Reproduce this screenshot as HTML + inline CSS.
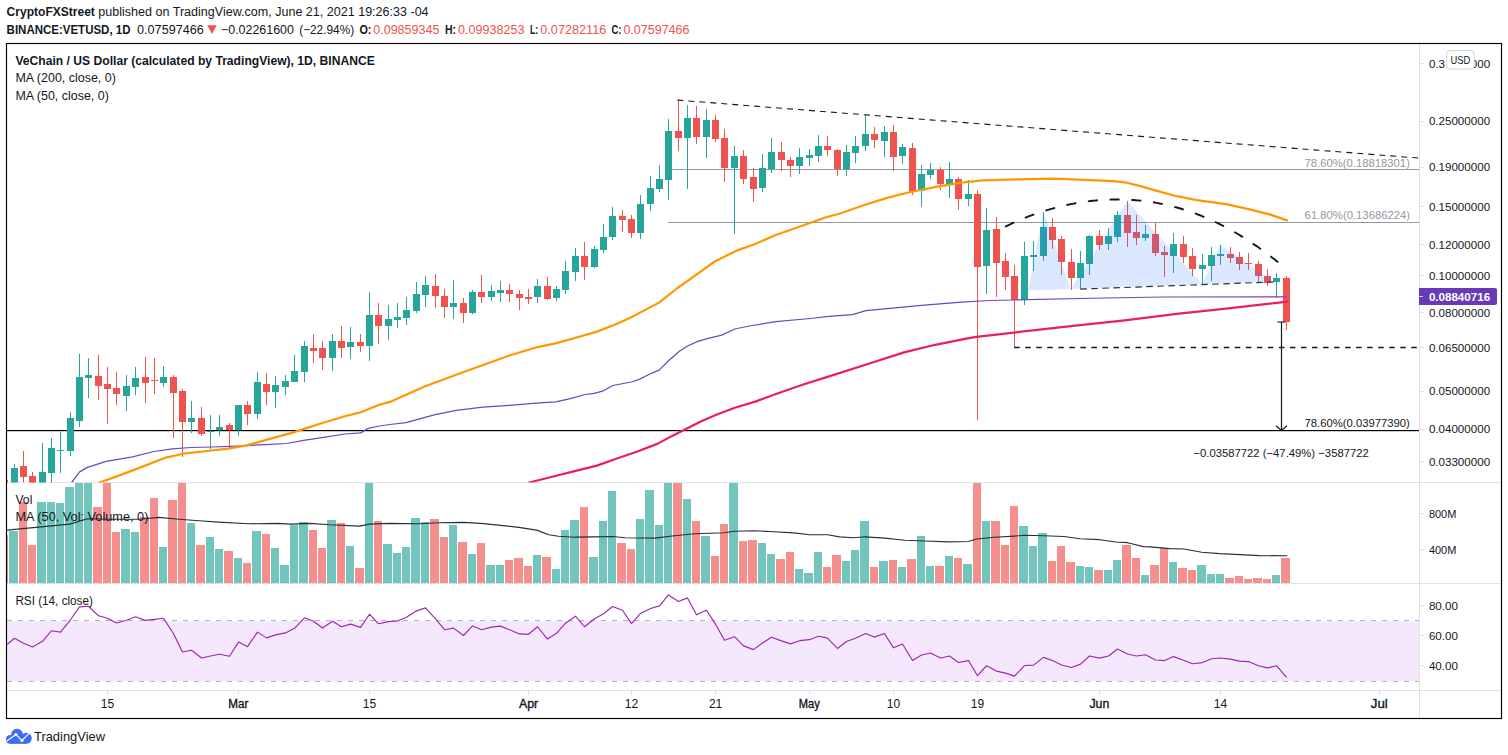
<!DOCTYPE html><html><head><meta charset="utf-8"><title>VETUSD</title><style>html,body{margin:0;padding:0;background:#fff}svg{display:block}</style></head><body><svg width="1508" height="755" viewBox="0 0 1508 755" font-family="Liberation Sans, sans-serif">
<rect width="1508" height="755" fill="#fff"/>
<defs><clipPath id="main"><rect x="7" y="44" width="1412" height="438.5"/></clipPath><clipPath id="volc"><rect x="7" y="483" width="1412" height="100"/></clipPath><clipPath id="rsic"><rect x="7" y="584" width="1412" height="106"/></clipPath></defs>
<g shape-rendering="crispEdges" fill="#e0e2e7">
<rect x="1419" y="44" width="1" height="674"/>
<rect x="7" y="482" width="1494" height="1"/>
<rect x="7" y="583" width="1494" height="1"/>
<rect x="7" y="690" width="1494" height="1"/>
</g>
<rect x="7" y="621" width="1412" height="60" fill="#f5e8fd" shape-rendering="crispEdges"/>
<g stroke="#b4b4b8" stroke-width="1" stroke-dasharray="5 6" shape-rendering="crispEdges">
<line x1="7" y1="620.5" x2="1419" y2="620.5"/><line x1="7" y1="681.5" x2="1419" y2="681.5"/></g>
<g clip-path="url(#volc)" shape-rendering="crispEdges">
<rect x="7" y="534.7" width="1" height="60" fill="#f58f8d"/>
<rect x="9" y="531" width="9" height="52" fill="#72c5bd"/>
<rect x="19" y="502" width="8" height="81" fill="#f58f8d"/>
<rect x="28" y="545" width="8" height="38" fill="#f58f8d"/>
<rect x="37" y="502" width="9" height="81" fill="#72c5bd"/>
<rect x="47" y="502" width="8" height="81" fill="#72c5bd"/>
<rect x="56" y="503" width="8" height="80" fill="#72c5bd"/>
<rect x="65" y="487" width="9" height="96" fill="#72c5bd"/>
<rect x="75" y="482" width="8" height="101" fill="#72c5bd"/>
<rect x="84" y="482" width="8" height="101" fill="#72c5bd"/>
<rect x="93" y="507" width="9" height="76" fill="#f58f8d"/>
<rect x="103" y="482" width="8" height="101" fill="#f58f8d"/>
<rect x="112" y="532" width="8" height="51" fill="#f58f8d"/>
<rect x="121" y="529" width="9" height="54" fill="#72c5bd"/>
<rect x="131" y="532" width="8" height="51" fill="#72c5bd"/>
<rect x="140" y="517" width="9" height="66" fill="#f58f8d"/>
<rect x="150" y="498" width="8" height="85" fill="#f58f8d"/>
<rect x="159" y="547" width="8" height="36" fill="#72c5bd"/>
<rect x="168" y="500" width="9" height="83" fill="#f58f8d"/>
<rect x="178" y="482" width="8" height="101" fill="#f58f8d"/>
<rect x="187" y="523" width="8" height="60" fill="#72c5bd"/>
<rect x="196" y="545" width="9" height="38" fill="#f58f8d"/>
<rect x="206" y="537" width="8" height="46" fill="#72c5bd"/>
<rect x="215" y="549" width="8" height="34" fill="#72c5bd"/>
<rect x="224" y="551" width="9" height="32" fill="#f58f8d"/>
<rect x="234" y="558" width="8" height="25" fill="#72c5bd"/>
<rect x="243" y="563" width="8" height="20" fill="#f58f8d"/>
<rect x="252" y="531" width="9" height="52" fill="#72c5bd"/>
<rect x="262" y="534" width="8" height="49" fill="#f58f8d"/>
<rect x="271" y="548" width="8" height="35" fill="#72c5bd"/>
<rect x="280" y="565" width="9" height="18" fill="#72c5bd"/>
<rect x="290" y="525" width="8" height="58" fill="#72c5bd"/>
<rect x="299" y="522" width="9" height="61" fill="#72c5bd"/>
<rect x="309" y="530" width="8" height="53" fill="#f58f8d"/>
<rect x="318" y="548" width="8" height="35" fill="#f58f8d"/>
<rect x="327" y="520" width="9" height="63" fill="#72c5bd"/>
<rect x="337" y="523" width="8" height="60" fill="#f58f8d"/>
<rect x="346" y="546" width="8" height="37" fill="#72c5bd"/>
<rect x="355" y="568" width="9" height="15" fill="#f58f8d"/>
<rect x="365" y="482" width="8" height="101" fill="#72c5bd"/>
<rect x="374" y="521" width="8" height="62" fill="#f58f8d"/>
<rect x="383" y="544" width="9" height="39" fill="#72c5bd"/>
<rect x="393" y="553" width="8" height="30" fill="#72c5bd"/>
<rect x="402" y="547" width="8" height="36" fill="#72c5bd"/>
<rect x="411" y="518" width="9" height="65" fill="#72c5bd"/>
<rect x="421" y="522" width="8" height="61" fill="#72c5bd"/>
<rect x="430" y="519" width="9" height="64" fill="#f58f8d"/>
<rect x="440" y="537" width="8" height="46" fill="#f58f8d"/>
<rect x="449" y="525" width="8" height="58" fill="#72c5bd"/>
<rect x="458" y="542" width="9" height="41" fill="#f58f8d"/>
<rect x="468" y="554" width="8" height="29" fill="#72c5bd"/>
<rect x="477" y="543" width="8" height="40" fill="#f58f8d"/>
<rect x="486" y="565" width="9" height="18" fill="#72c5bd"/>
<rect x="496" y="565" width="8" height="18" fill="#72c5bd"/>
<rect x="505" y="560" width="8" height="23" fill="#f58f8d"/>
<rect x="514" y="558" width="9" height="25" fill="#f58f8d"/>
<rect x="524" y="566" width="8" height="17" fill="#f58f8d"/>
<rect x="533" y="555" width="8" height="28" fill="#72c5bd"/>
<rect x="542" y="557" width="9" height="26" fill="#f58f8d"/>
<rect x="552" y="569" width="8" height="14" fill="#72c5bd"/>
<rect x="561" y="530" width="8" height="53" fill="#72c5bd"/>
<rect x="570" y="520" width="9" height="63" fill="#72c5bd"/>
<rect x="580" y="507" width="8" height="76" fill="#f58f8d"/>
<rect x="589" y="557" width="9" height="26" fill="#72c5bd"/>
<rect x="599" y="521" width="8" height="62" fill="#72c5bd"/>
<rect x="608" y="491" width="8" height="92" fill="#72c5bd"/>
<rect x="617" y="543" width="9" height="40" fill="#f58f8d"/>
<rect x="627" y="549" width="8" height="34" fill="#f58f8d"/>
<rect x="636" y="519" width="8" height="64" fill="#72c5bd"/>
<rect x="645" y="490" width="9" height="93" fill="#72c5bd"/>
<rect x="655" y="525" width="8" height="58" fill="#72c5bd"/>
<rect x="664" y="482" width="8" height="101" fill="#72c5bd"/>
<rect x="673" y="482" width="9" height="101" fill="#f58f8d"/>
<rect x="683" y="499" width="8" height="84" fill="#72c5bd"/>
<rect x="692" y="521" width="8" height="62" fill="#f58f8d"/>
<rect x="701" y="536" width="9" height="47" fill="#72c5bd"/>
<rect x="711" y="556" width="8" height="27" fill="#f58f8d"/>
<rect x="720" y="524" width="8" height="59" fill="#f58f8d"/>
<rect x="729" y="482" width="9" height="101" fill="#72c5bd"/>
<rect x="739" y="541" width="8" height="42" fill="#f58f8d"/>
<rect x="748" y="540" width="9" height="43" fill="#f58f8d"/>
<rect x="758" y="543" width="8" height="40" fill="#72c5bd"/>
<rect x="767" y="554" width="8" height="29" fill="#72c5bd"/>
<rect x="776" y="559" width="9" height="24" fill="#f58f8d"/>
<rect x="786" y="552" width="8" height="31" fill="#f58f8d"/>
<rect x="795" y="569" width="8" height="14" fill="#72c5bd"/>
<rect x="804" y="573" width="9" height="10" fill="#72c5bd"/>
<rect x="814" y="552" width="8" height="31" fill="#72c5bd"/>
<rect x="823" y="567" width="8" height="16" fill="#f58f8d"/>
<rect x="832" y="555" width="9" height="28" fill="#f58f8d"/>
<rect x="842" y="561" width="8" height="22" fill="#72c5bd"/>
<rect x="851" y="550" width="8" height="33" fill="#72c5bd"/>
<rect x="860" y="521" width="9" height="62" fill="#72c5bd"/>
<rect x="870" y="567" width="8" height="16" fill="#f58f8d"/>
<rect x="879" y="561" width="9" height="22" fill="#72c5bd"/>
<rect x="889" y="560" width="8" height="23" fill="#f58f8d"/>
<rect x="898" y="567" width="8" height="16" fill="#72c5bd"/>
<rect x="907" y="559" width="9" height="24" fill="#f58f8d"/>
<rect x="917" y="536" width="8" height="47" fill="#72c5bd"/>
<rect x="926" y="566" width="8" height="17" fill="#72c5bd"/>
<rect x="935" y="566" width="9" height="17" fill="#f58f8d"/>
<rect x="945" y="556" width="8" height="27" fill="#72c5bd"/>
<rect x="954" y="558" width="8" height="25" fill="#f58f8d"/>
<rect x="963" y="564" width="9" height="19" fill="#72c5bd"/>
<rect x="973" y="482" width="8" height="101" fill="#f58f8d"/>
<rect x="982" y="521" width="8" height="62" fill="#72c5bd"/>
<rect x="991" y="521" width="9" height="62" fill="#f58f8d"/>
<rect x="1001" y="545" width="8" height="38" fill="#f58f8d"/>
<rect x="1010" y="506" width="8" height="77" fill="#f58f8d"/>
<rect x="1019" y="526" width="9" height="57" fill="#72c5bd"/>
<rect x="1029" y="546" width="8" height="37" fill="#72c5bd"/>
<rect x="1038" y="533" width="9" height="50" fill="#72c5bd"/>
<rect x="1048" y="561" width="8" height="22" fill="#f58f8d"/>
<rect x="1057" y="546" width="8" height="37" fill="#f58f8d"/>
<rect x="1066" y="562" width="9" height="21" fill="#f58f8d"/>
<rect x="1076" y="566" width="8" height="17" fill="#72c5bd"/>
<rect x="1085" y="567" width="8" height="16" fill="#72c5bd"/>
<rect x="1094" y="570" width="9" height="13" fill="#f58f8d"/>
<rect x="1104" y="570" width="8" height="13" fill="#72c5bd"/>
<rect x="1113" y="560" width="8" height="23" fill="#72c5bd"/>
<rect x="1122" y="545" width="9" height="38" fill="#f58f8d"/>
<rect x="1132" y="558" width="8" height="25" fill="#f58f8d"/>
<rect x="1141" y="575" width="8" height="8" fill="#72c5bd"/>
<rect x="1150" y="565" width="9" height="18" fill="#f58f8d"/>
<rect x="1160" y="548" width="8" height="35" fill="#f58f8d"/>
<rect x="1169" y="562" width="8" height="21" fill="#72c5bd"/>
<rect x="1178" y="568" width="9" height="15" fill="#f58f8d"/>
<rect x="1188" y="570" width="8" height="13" fill="#f58f8d"/>
<rect x="1197" y="565" width="9" height="18" fill="#72c5bd"/>
<rect x="1207" y="574" width="8" height="9" fill="#72c5bd"/>
<rect x="1216" y="574" width="8" height="9" fill="#72c5bd"/>
<rect x="1225" y="578" width="9" height="5" fill="#f58f8d"/>
<rect x="1235" y="576" width="8" height="7" fill="#f58f8d"/>
<rect x="1244" y="579" width="8" height="4" fill="#f58f8d"/>
<rect x="1253" y="578" width="9" height="5" fill="#f58f8d"/>
<rect x="1263" y="579" width="8" height="4" fill="#f58f8d"/>
<rect x="1272" y="575" width="8" height="8" fill="#72c5bd"/>
<rect x="1281" y="558" width="9" height="25" fill="#f58f8d"/>
</g>
<polyline clip-path="url(#volc)" points="6.96,530.12 35.81,527.34 69.63,524.15 87.53,518.78 111.41,519.18 139.26,519.18 159.15,517.39 179.05,519.18 198.94,520.77 218.83,522.16 248.67,523.76 278.51,523.36 290,524.15 309.89,523.36 329.79,524.75 359.63,526.14 369.58,524.15 389.47,523.36 419.31,523.76 439.2,522.76 463.08,522.36 480.98,523.36 500.88,525.35 518.78,527.34 536.68,530.12 548.62,534.7 558.57,536.29 574.48,537.28 575,537.08 594.89,536.89 612.8,536.49 624.73,537.68 654.58,538.08 674.47,535.69 694.36,533.7 724.2,532.71 734.15,531.32 754.05,530.72 773.94,531.71 793.83,532.91 809.75,534.7 827.65,534.7 839.59,536.89 853.51,537.68 865.45,536.69 865,536.89 884.89,538.08 904.79,540.27 924.68,541.06 948.55,541.86 968.45,541.46 976.41,539.07 994.31,537.28 1014.2,536.09 1024.15,535.29 1044.05,535.69 1063.94,536.49 1079.85,538.68 1099.75,539.67 1115.66,542.06 1127.6,542.66 1143.51,546.63 1150,546.83 1169.89,548.62 1183.82,549.02 1201.72,552.2 1219.63,553.6 1239.52,554.59 1259.42,555.59 1287.27,555.79" fill="none" stroke="#2a2e39" stroke-width="1.1" stroke-linejoin="round"/>
<g clip-path="url(#main)">
<g shape-rendering="crispEdges" fill="#9598a1"><rect x="668" y="169" width="751" height="1"/><rect x="668" y="222" width="751" height="1"/></g>
<rect x="7" y="430" width="1412" height="1.2" fill="#000"/>
<g shape-rendering="crispEdges">
<rect x="7" y="480" width="1" height="3" fill="#ef5350"/>
<rect x="14" y="464" width="1" height="22" fill="#26a69a"/>
<rect x="11" y="468" width="7" height="18" fill="#26a69a"/>
<rect x="23" y="451" width="1" height="35" fill="#ef5350"/>
<rect x="20" y="466" width="7" height="11" fill="#ef5350"/>
<rect x="32" y="472" width="1" height="14" fill="#ef5350"/>
<rect x="29" y="476" width="7" height="10" fill="#ef5350"/>
<rect x="42" y="443" width="1" height="43" fill="#26a69a"/>
<rect x="39" y="472" width="7" height="14" fill="#26a69a"/>
<rect x="51" y="438" width="1" height="48" fill="#26a69a"/>
<rect x="48" y="448" width="7" height="25" fill="#26a69a"/>
<rect x="60" y="432" width="1" height="41" fill="#26a69a"/>
<rect x="57" y="450" width="7" height="1" fill="#26a69a"/>
<rect x="70" y="412" width="1" height="44" fill="#26a69a"/>
<rect x="67" y="418" width="7" height="33" fill="#26a69a"/>
<rect x="79" y="354" width="1" height="73" fill="#26a69a"/>
<rect x="76" y="377" width="7" height="44" fill="#26a69a"/>
<rect x="88" y="358" width="1" height="40" fill="#26a69a"/>
<rect x="85" y="375" width="7" height="3" fill="#26a69a"/>
<rect x="98" y="355" width="1" height="45" fill="#ef5350"/>
<rect x="95" y="376" width="7" height="10" fill="#ef5350"/>
<rect x="107" y="367" width="1" height="57" fill="#ef5350"/>
<rect x="104" y="384" width="7" height="5" fill="#ef5350"/>
<rect x="116" y="372" width="1" height="33" fill="#ef5350"/>
<rect x="113" y="388" width="7" height="6" fill="#ef5350"/>
<rect x="126" y="375" width="1" height="36" fill="#26a69a"/>
<rect x="123" y="386" width="7" height="10" fill="#26a69a"/>
<rect x="135" y="367" width="1" height="28" fill="#26a69a"/>
<rect x="132" y="378" width="7" height="9" fill="#26a69a"/>
<rect x="145" y="357" width="1" height="46" fill="#ef5350"/>
<rect x="142" y="377" width="7" height="6" fill="#ef5350"/>
<rect x="154" y="358" width="1" height="36" fill="#ef5350"/>
<rect x="151" y="380" width="7" height="1" fill="#ef5350"/>
<rect x="163" y="366" width="1" height="21" fill="#26a69a"/>
<rect x="160" y="377" width="7" height="6" fill="#26a69a"/>
<rect x="173" y="375" width="1" height="63" fill="#ef5350"/>
<rect x="170" y="377" width="7" height="16" fill="#ef5350"/>
<rect x="182" y="389" width="1" height="68" fill="#ef5350"/>
<rect x="179" y="391" width="7" height="31" fill="#ef5350"/>
<rect x="191" y="401" width="1" height="32" fill="#26a69a"/>
<rect x="188" y="418" width="7" height="4" fill="#26a69a"/>
<rect x="201" y="407" width="1" height="29" fill="#ef5350"/>
<rect x="198" y="418" width="7" height="16" fill="#ef5350"/>
<rect x="210" y="415" width="1" height="34" fill="#26a69a"/>
<rect x="207" y="431" width="7" height="1" fill="#26a69a"/>
<rect x="219" y="415" width="1" height="21" fill="#26a69a"/>
<rect x="216" y="427" width="7" height="3" fill="#26a69a"/>
<rect x="229" y="423" width="1" height="25" fill="#ef5350"/>
<rect x="226" y="425" width="7" height="5" fill="#ef5350"/>
<rect x="238" y="405" width="1" height="31" fill="#26a69a"/>
<rect x="235" y="405" width="7" height="25" fill="#26a69a"/>
<rect x="247" y="401" width="1" height="24" fill="#ef5350"/>
<rect x="244" y="405" width="7" height="9" fill="#ef5350"/>
<rect x="257" y="372" width="1" height="47" fill="#26a69a"/>
<rect x="254" y="382" width="7" height="32" fill="#26a69a"/>
<rect x="266" y="373" width="1" height="32" fill="#ef5350"/>
<rect x="263" y="384" width="7" height="8" fill="#ef5350"/>
<rect x="275" y="376" width="1" height="32" fill="#26a69a"/>
<rect x="272" y="385" width="7" height="7" fill="#26a69a"/>
<rect x="285" y="375" width="1" height="20" fill="#26a69a"/>
<rect x="282" y="381" width="7" height="6" fill="#26a69a"/>
<rect x="294" y="355" width="1" height="27" fill="#26a69a"/>
<rect x="291" y="371" width="7" height="11" fill="#26a69a"/>
<rect x="304" y="341" width="1" height="41" fill="#26a69a"/>
<rect x="301" y="346" width="7" height="26" fill="#26a69a"/>
<rect x="313" y="334" width="1" height="29" fill="#ef5350"/>
<rect x="310" y="348" width="7" height="3" fill="#ef5350"/>
<rect x="322" y="341" width="1" height="29" fill="#ef5350"/>
<rect x="319" y="348" width="7" height="10" fill="#ef5350"/>
<rect x="332" y="334" width="1" height="37" fill="#26a69a"/>
<rect x="329" y="341" width="7" height="17" fill="#26a69a"/>
<rect x="341" y="326" width="1" height="32" fill="#ef5350"/>
<rect x="338" y="341" width="7" height="7" fill="#ef5350"/>
<rect x="350" y="327" width="1" height="32" fill="#26a69a"/>
<rect x="347" y="342" width="7" height="5" fill="#26a69a"/>
<rect x="360" y="334" width="1" height="18" fill="#ef5350"/>
<rect x="357" y="342" width="7" height="4" fill="#ef5350"/>
<rect x="369" y="292" width="1" height="69" fill="#26a69a"/>
<rect x="366" y="315" width="7" height="31" fill="#26a69a"/>
<rect x="378" y="303" width="1" height="41" fill="#ef5350"/>
<rect x="375" y="315" width="7" height="11" fill="#ef5350"/>
<rect x="388" y="305" width="1" height="35" fill="#26a69a"/>
<rect x="385" y="319" width="7" height="7" fill="#26a69a"/>
<rect x="397" y="303" width="1" height="25" fill="#26a69a"/>
<rect x="394" y="317" width="7" height="3" fill="#26a69a"/>
<rect x="406" y="297" width="1" height="28" fill="#26a69a"/>
<rect x="403" y="310" width="7" height="8" fill="#26a69a"/>
<rect x="416" y="282" width="1" height="31" fill="#26a69a"/>
<rect x="413" y="294" width="7" height="17" fill="#26a69a"/>
<rect x="425" y="276" width="1" height="31" fill="#26a69a"/>
<rect x="422" y="285" width="7" height="10" fill="#26a69a"/>
<rect x="435" y="274" width="1" height="34" fill="#ef5350"/>
<rect x="432" y="286" width="7" height="10" fill="#ef5350"/>
<rect x="444" y="289" width="1" height="29" fill="#ef5350"/>
<rect x="441" y="296" width="7" height="11" fill="#ef5350"/>
<rect x="453" y="280" width="1" height="39" fill="#26a69a"/>
<rect x="450" y="303" width="7" height="4" fill="#26a69a"/>
<rect x="463" y="298" width="1" height="25" fill="#ef5350"/>
<rect x="460" y="303" width="7" height="10" fill="#ef5350"/>
<rect x="472" y="290" width="1" height="24" fill="#26a69a"/>
<rect x="469" y="292" width="7" height="21" fill="#26a69a"/>
<rect x="481" y="275" width="1" height="28" fill="#ef5350"/>
<rect x="478" y="292" width="7" height="5" fill="#ef5350"/>
<rect x="491" y="285" width="1" height="16" fill="#26a69a"/>
<rect x="488" y="291" width="7" height="6" fill="#26a69a"/>
<rect x="500" y="281" width="1" height="21" fill="#26a69a"/>
<rect x="497" y="290" width="7" height="3" fill="#26a69a"/>
<rect x="509" y="284" width="1" height="18" fill="#ef5350"/>
<rect x="506" y="290" width="7" height="4" fill="#ef5350"/>
<rect x="519" y="290" width="1" height="20" fill="#ef5350"/>
<rect x="516" y="294" width="7" height="4" fill="#ef5350"/>
<rect x="528" y="289" width="1" height="15" fill="#ef5350"/>
<rect x="525" y="297" width="7" height="2" fill="#ef5350"/>
<rect x="537" y="279" width="1" height="24" fill="#26a69a"/>
<rect x="534" y="286" width="7" height="11" fill="#26a69a"/>
<rect x="547" y="277" width="1" height="23" fill="#ef5350"/>
<rect x="544" y="286" width="7" height="13" fill="#ef5350"/>
<rect x="556" y="286" width="1" height="15" fill="#26a69a"/>
<rect x="553" y="289" width="7" height="9" fill="#26a69a"/>
<rect x="565" y="261" width="1" height="33" fill="#26a69a"/>
<rect x="562" y="271" width="7" height="19" fill="#26a69a"/>
<rect x="575" y="248" width="1" height="33" fill="#26a69a"/>
<rect x="572" y="256" width="7" height="16" fill="#26a69a"/>
<rect x="584" y="242" width="1" height="38" fill="#ef5350"/>
<rect x="581" y="256" width="7" height="11" fill="#ef5350"/>
<rect x="594" y="246" width="1" height="22" fill="#26a69a"/>
<rect x="591" y="249" width="7" height="18" fill="#26a69a"/>
<rect x="603" y="224" width="1" height="29" fill="#26a69a"/>
<rect x="600" y="237" width="7" height="13" fill="#26a69a"/>
<rect x="612" y="207" width="1" height="33" fill="#26a69a"/>
<rect x="609" y="216" width="7" height="21" fill="#26a69a"/>
<rect x="622" y="210" width="1" height="22" fill="#ef5350"/>
<rect x="619" y="216" width="7" height="4" fill="#ef5350"/>
<rect x="631" y="215" width="1" height="23" fill="#ef5350"/>
<rect x="628" y="219" width="7" height="14" fill="#ef5350"/>
<rect x="640" y="195" width="1" height="44" fill="#26a69a"/>
<rect x="637" y="204" width="7" height="29" fill="#26a69a"/>
<rect x="650" y="176" width="1" height="35" fill="#26a69a"/>
<rect x="647" y="188" width="7" height="16" fill="#26a69a"/>
<rect x="659" y="165" width="1" height="27" fill="#26a69a"/>
<rect x="656" y="179" width="7" height="10" fill="#26a69a"/>
<rect x="668" y="119" width="1" height="81" fill="#26a69a"/>
<rect x="665" y="131" width="7" height="49" fill="#26a69a"/>
<rect x="678" y="100" width="1" height="51" fill="#ef5350"/>
<rect x="675" y="131" width="7" height="7" fill="#ef5350"/>
<rect x="687" y="105" width="1" height="84" fill="#26a69a"/>
<rect x="684" y="118" width="7" height="20" fill="#26a69a"/>
<rect x="696" y="106" width="1" height="38" fill="#ef5350"/>
<rect x="693" y="118" width="7" height="19" fill="#ef5350"/>
<rect x="706" y="109" width="1" height="49" fill="#26a69a"/>
<rect x="703" y="120" width="7" height="17" fill="#26a69a"/>
<rect x="715" y="115" width="1" height="27" fill="#ef5350"/>
<rect x="712" y="120" width="7" height="19" fill="#ef5350"/>
<rect x="724" y="129" width="1" height="53" fill="#ef5350"/>
<rect x="721" y="138" width="7" height="30" fill="#ef5350"/>
<rect x="734" y="146" width="1" height="88" fill="#26a69a"/>
<rect x="731" y="156" width="7" height="12" fill="#26a69a"/>
<rect x="743" y="150" width="1" height="34" fill="#ef5350"/>
<rect x="740" y="156" width="7" height="23" fill="#ef5350"/>
<rect x="753" y="168" width="1" height="34" fill="#ef5350"/>
<rect x="750" y="177" width="7" height="12" fill="#ef5350"/>
<rect x="762" y="154" width="1" height="38" fill="#26a69a"/>
<rect x="759" y="168" width="7" height="20" fill="#26a69a"/>
<rect x="771" y="138" width="1" height="35" fill="#26a69a"/>
<rect x="768" y="152" width="7" height="17" fill="#26a69a"/>
<rect x="781" y="142" width="1" height="29" fill="#ef5350"/>
<rect x="778" y="152" width="7" height="8" fill="#ef5350"/>
<rect x="790" y="157" width="1" height="20" fill="#ef5350"/>
<rect x="787" y="160" width="7" height="6" fill="#ef5350"/>
<rect x="799" y="148" width="1" height="26" fill="#26a69a"/>
<rect x="796" y="157" width="7" height="9" fill="#26a69a"/>
<rect x="809" y="149" width="1" height="17" fill="#26a69a"/>
<rect x="806" y="155" width="7" height="3" fill="#26a69a"/>
<rect x="818" y="135" width="1" height="27" fill="#26a69a"/>
<rect x="815" y="146" width="7" height="10" fill="#26a69a"/>
<rect x="827" y="136" width="1" height="20" fill="#ef5350"/>
<rect x="824" y="146" width="7" height="4" fill="#ef5350"/>
<rect x="837" y="149" width="1" height="27" fill="#ef5350"/>
<rect x="834" y="150" width="7" height="19" fill="#ef5350"/>
<rect x="846" y="145" width="1" height="31" fill="#26a69a"/>
<rect x="843" y="152" width="7" height="17" fill="#26a69a"/>
<rect x="855" y="136" width="1" height="27" fill="#26a69a"/>
<rect x="852" y="146" width="7" height="7" fill="#26a69a"/>
<rect x="865" y="115" width="1" height="36" fill="#26a69a"/>
<rect x="862" y="134" width="7" height="12" fill="#26a69a"/>
<rect x="874" y="127" width="1" height="21" fill="#ef5350"/>
<rect x="871" y="134" width="7" height="6" fill="#ef5350"/>
<rect x="884" y="126" width="1" height="31" fill="#26a69a"/>
<rect x="881" y="132" width="7" height="9" fill="#26a69a"/>
<rect x="893" y="125" width="1" height="46" fill="#ef5350"/>
<rect x="890" y="132" width="7" height="25" fill="#ef5350"/>
<rect x="902" y="144" width="1" height="20" fill="#26a69a"/>
<rect x="899" y="147" width="7" height="9" fill="#26a69a"/>
<rect x="912" y="143" width="1" height="52" fill="#ef5350"/>
<rect x="909" y="148" width="7" height="43" fill="#ef5350"/>
<rect x="921" y="165" width="1" height="42" fill="#26a69a"/>
<rect x="918" y="174" width="7" height="17" fill="#26a69a"/>
<rect x="930" y="163" width="1" height="16" fill="#26a69a"/>
<rect x="927" y="170" width="7" height="5" fill="#26a69a"/>
<rect x="940" y="167" width="1" height="23" fill="#ef5350"/>
<rect x="937" y="170" width="7" height="14" fill="#ef5350"/>
<rect x="949" y="162" width="1" height="36" fill="#26a69a"/>
<rect x="946" y="179" width="7" height="5" fill="#26a69a"/>
<rect x="958" y="177" width="1" height="33" fill="#ef5350"/>
<rect x="955" y="179" width="7" height="20" fill="#ef5350"/>
<rect x="968" y="180" width="1" height="26" fill="#26a69a"/>
<rect x="965" y="194" width="7" height="5" fill="#26a69a"/>
<rect x="977" y="190" width="1" height="230" fill="#ef5350"/>
<rect x="974" y="194" width="7" height="73" fill="#ef5350"/>
<rect x="986" y="208" width="1" height="86" fill="#26a69a"/>
<rect x="983" y="230" width="7" height="36" fill="#26a69a"/>
<rect x="996" y="217" width="1" height="80" fill="#ef5350"/>
<rect x="993" y="229" width="7" height="34" fill="#ef5350"/>
<rect x="1005" y="253" width="1" height="37" fill="#ef5350"/>
<rect x="1002" y="261" width="7" height="16" fill="#ef5350"/>
<rect x="1014" y="265" width="1" height="83" fill="#ef5350"/>
<rect x="1011" y="276" width="7" height="24" fill="#ef5350"/>
<rect x="1024" y="242" width="1" height="63" fill="#26a69a"/>
<rect x="1021" y="256" width="7" height="44" fill="#26a69a"/>
<rect x="1033" y="241" width="1" height="30" fill="#26a69a"/>
<rect x="1030" y="255" width="7" height="2" fill="#26a69a"/>
<rect x="1043" y="212" width="1" height="49" fill="#26a69a"/>
<rect x="1040" y="227" width="7" height="29" fill="#26a69a"/>
<rect x="1052" y="218" width="1" height="31" fill="#ef5350"/>
<rect x="1049" y="227" width="7" height="13" fill="#ef5350"/>
<rect x="1061" y="236" width="1" height="39" fill="#ef5350"/>
<rect x="1058" y="239" width="7" height="23" fill="#ef5350"/>
<rect x="1071" y="249" width="1" height="41" fill="#ef5350"/>
<rect x="1068" y="262" width="7" height="16" fill="#ef5350"/>
<rect x="1080" y="251" width="1" height="38" fill="#26a69a"/>
<rect x="1077" y="263" width="7" height="15" fill="#26a69a"/>
<rect x="1089" y="235" width="1" height="40" fill="#26a69a"/>
<rect x="1086" y="236" width="7" height="28" fill="#26a69a"/>
<rect x="1099" y="230" width="1" height="20" fill="#ef5350"/>
<rect x="1096" y="236" width="7" height="9" fill="#ef5350"/>
<rect x="1108" y="228" width="1" height="22" fill="#26a69a"/>
<rect x="1105" y="236" width="7" height="8" fill="#26a69a"/>
<rect x="1117" y="211" width="1" height="31" fill="#26a69a"/>
<rect x="1114" y="215" width="7" height="22" fill="#26a69a"/>
<rect x="1127" y="201" width="1" height="46" fill="#ef5350"/>
<rect x="1124" y="215" width="7" height="18" fill="#ef5350"/>
<rect x="1136" y="215" width="1" height="30" fill="#ef5350"/>
<rect x="1133" y="232" width="7" height="6" fill="#ef5350"/>
<rect x="1145" y="225" width="1" height="16" fill="#26a69a"/>
<rect x="1142" y="234" width="7" height="4" fill="#26a69a"/>
<rect x="1155" y="223" width="1" height="33" fill="#ef5350"/>
<rect x="1152" y="234" width="7" height="19" fill="#ef5350"/>
<rect x="1164" y="246" width="1" height="31" fill="#ef5350"/>
<rect x="1161" y="252" width="7" height="3" fill="#ef5350"/>
<rect x="1173" y="233" width="1" height="40" fill="#26a69a"/>
<rect x="1170" y="244" width="7" height="12" fill="#26a69a"/>
<rect x="1183" y="236" width="1" height="27" fill="#ef5350"/>
<rect x="1180" y="244" width="7" height="13" fill="#ef5350"/>
<rect x="1192" y="248" width="1" height="28" fill="#ef5350"/>
<rect x="1189" y="256" width="7" height="13" fill="#ef5350"/>
<rect x="1202" y="254" width="1" height="30" fill="#26a69a"/>
<rect x="1199" y="265" width="7" height="4" fill="#26a69a"/>
<rect x="1211" y="247" width="1" height="34" fill="#26a69a"/>
<rect x="1208" y="255" width="7" height="11" fill="#26a69a"/>
<rect x="1220" y="245" width="1" height="20" fill="#26a69a"/>
<rect x="1217" y="254" width="7" height="2" fill="#26a69a"/>
<rect x="1230" y="247" width="1" height="16" fill="#ef5350"/>
<rect x="1227" y="254" width="7" height="4" fill="#ef5350"/>
<rect x="1239" y="252" width="1" height="18" fill="#ef5350"/>
<rect x="1236" y="257" width="7" height="7" fill="#ef5350"/>
<rect x="1248" y="253" width="1" height="17" fill="#ef5350"/>
<rect x="1245" y="263" width="7" height="1" fill="#ef5350"/>
<rect x="1258" y="261" width="1" height="22" fill="#ef5350"/>
<rect x="1255" y="264" width="7" height="12" fill="#ef5350"/>
<rect x="1267" y="269" width="1" height="17" fill="#ef5350"/>
<rect x="1264" y="276" width="7" height="7" fill="#ef5350"/>
<rect x="1276" y="273" width="1" height="25" fill="#26a69a"/>
<rect x="1273" y="278" width="7" height="4" fill="#26a69a"/>
<rect x="1286" y="276" width="1" height="54" fill="#ef5350"/>
<rect x="1283" y="278" width="7" height="44" fill="#ef5350"/>
</g>
<polyline points="71.6,482.5 75.6,477.2 79.6,471.9 87.5,467.4 106.1,461.3 132.6,456.8 153.8,451.5 172.4,448.8 191,447.5 212.2,447 230.8,446.4 246.7,445.6 265.3,444.6 286.5,443.5 305,440.1 323.6,437.4 344.8,434 360.7,432.9 367.4,428.7 379.3,426 390,424.5 405.9,422.6 435.1,414.7 456.3,410.4 482.8,407.2 509.4,405.4 535.9,403.2 555.8,401.9 570.4,398.7 585,394.5 594.2,393.4 603.5,390.8 612.8,385.5 631.4,382 639.3,379.4 651.3,373.3 659.2,370.1 668.5,360.8 679.1,351.5 687.1,346.2 697.7,341.4 708.3,338.3 721.6,335.1 734.8,329 749.2,326 775.7,321.7 810.2,318.5 828.7,316.4 852.6,314.6 865.9,310.6 887.1,308.7 921.6,305.3 961.4,302.1 989.5,300.5 1014,300 1104,298 1164,297 1286.5,296.8" fill="none" stroke="#6f45c4" stroke-width="1.25" stroke-linejoin="round"/>
<polyline points="99.5,482.5 119.4,475.4 140.6,467.4 164.5,457.9 185.7,453.3 206.9,451 228.1,448.6 246.7,445.4 265.3,440.1 291.8,432.9 318.3,424.2 344.8,416.2 360.7,412.2 379.3,404.8 390,401.9 424.5,386.5 461.6,372.7 509.4,355.5 538.5,346.8 554.5,343.6 575.7,337.7 596.9,331.6 614.1,325 629.8,318 659,302.6 677.5,288 696.1,274.8 714.7,261.5 735.9,250.9 754.5,244.3 775.7,235 802.2,225.7 826.1,217.2 839.3,213.8 865.9,204.5 887.1,197.9 908.3,192.5 934.8,187.2 961.4,182.7 982.5,180.4 1016.4,179.3 1054.7,178.6 1084,179.8 1113.3,181.1 1126.9,182.7 1140.4,186.1 1156.2,190.6 1176.5,196.2 1196.8,200.1 1226.1,204.1 1248.6,209.1 1271.2,214.9 1287,220.4" fill="none" stroke="#ff9800" stroke-width="2.2" stroke-linejoin="round" stroke-linecap="round"/>
<polyline points="529.3,482.5 549.2,477.5 575.7,470.9 596.9,465.6 615.5,459 636.7,451.8 657.9,443.6 671.2,436.4 684.4,429.8 700.3,421.8 716.3,414.7 734.8,407.8 756,401.4 774.6,394.5 789.5,389.2 804,384.3 828.3,376.6 866.2,364.5 904.1,352.4 935.2,344.8 966.2,338.6 976.6,336.9 1000.7,334.1 1021.4,331.7 1073.1,325.9 1124.8,320.3 1176.6,313.8 1228.3,308.3 1287.3,301.6" fill="none" stroke="#e91e63" stroke-width="2.2" stroke-linejoin="round" stroke-linecap="round"/>
<polygon points="1028.1,290.5 1043.4,211.9 1070.7,288.9" fill="rgba(41,121,255,0.17)"/>
<polygon points="1070.7,288.9 1127.3,201.2 1202.4,284.3" fill="rgba(41,121,255,0.17)"/>
<polygon points="1202.4,284.3 1220.4,244.8 1273.4,281.9" fill="rgba(41,121,255,0.17)"/>
<line x1="1080.4" y1="289.1" x2="1275.7" y2="281.9" stroke="#2a2e39" stroke-width="1.15" stroke-dasharray="6.5 4.5"/>
<polyline points="1005.1,226.79 1006.82,225.94 1008.54,225.1 1010.25,224.28 1011.97,223.47 1013.69,222.68 1015.41,221.91 1017.12,221.14 1018.84,220.4 1020.56,219.66 1022.28,218.94 1023.99,218.24 1025.71,217.55 1027.43,216.87 1029.15,216.2 1030.86,215.55 1032.58,214.92 1034.3,214.3 1036.02,213.69 1037.73,213.09 1039.45,212.51 1041.17,211.94 1042.89,211.38 1044.61,210.84 1046.32,210.31 1048.04,209.79 1049.76,209.29 1051.48,208.8 1053.19,208.32 1054.91,207.85 1056.63,207.4 1058.35,206.96 1060.06,206.53 1061.78,206.12 1063.5,205.71 1065.22,205.32 1066.93,204.95 1068.65,204.58 1070.37,204.23 1072.09,203.89 1073.8,203.56 1075.52,203.25 1077.24,202.95 1078.96,202.66 1080.67,202.38 1082.39,202.11 1084.11,201.86 1085.83,201.62 1087.55,201.39 1089.26,201.18 1090.98,200.98 1092.7,200.79 1094.42,200.61 1096.13,200.45 1097.85,200.29 1099.57,200.15 1101.29,200.03 1103,199.91 1104.72,199.81 1106.44,199.72 1108.16,199.65 1109.87,199.58 1111.59,199.53 1113.31,199.49 1115.03,199.47 1116.74,199.46 1118.46,199.46 1120.18,199.47 1121.9,199.5 1123.62,199.54 1125.33,199.59 1127.05,199.66 1128.77,199.74 1130.49,199.83 1132.2,199.94 1133.92,200.06 1135.64,200.19 1137.36,200.34 1139.07,200.5 1140.79,200.67 1142.51,200.86 1144.23,201.06 1145.94,201.27 1147.66,201.5 1149.38,201.74 1151.1,202 1152.81,202.27 1154.53,202.55 1156.25,202.85 1157.97,203.16 1159.68,203.49 1161.4,203.83 1163.12,204.18 1164.84,204.55 1166.56,204.93 1168.27,205.33 1169.99,205.74 1171.71,206.17 1173.43,206.61 1175.14,207.06 1176.86,207.53 1178.58,208.02 1180.3,208.52 1182.01,209.03 1183.73,209.56 1185.45,210.1 1187.17,210.66 1188.88,211.24 1190.6,211.82 1192.32,212.43 1194.04,213.05 1195.75,213.68 1197.47,214.33 1199.19,214.99 1200.91,215.67 1202.63,216.37 1204.34,217.08 1206.06,217.81 1207.78,218.55 1209.5,219.3 1211.21,220.08 1212.93,220.86 1214.65,221.67 1216.37,222.49 1218.08,223.32 1219.8,224.17 1221.52,225.03 1223.24,225.92 1224.95,226.81 1226.67,227.73 1228.39,228.65 1230.11,229.6 1231.82,230.56 1233.54,231.53 1235.26,232.52 1236.98,233.53 1238.69,234.55 1240.41,235.59 1242.13,236.64 1243.85,237.71 1245.57,238.8 1247.28,239.9 1249,241.02 1250.72,242.15 1252.44,243.29 1254.15,244.46 1255.87,245.64 1257.59,246.83 1259.31,248.04 1261.02,249.27 1262.74,250.51 1264.46,251.76 1266.18,253.03 1267.89,254.32 1269.61,255.62 1271.33,256.94 1273.05,258.27 1274.76,259.62 1276.48,260.98 1278.2,262.36" fill="none" stroke="#131722" stroke-width="1.9" stroke-dasharray="10 11.76"/>
<line x1="677.4" y1="100.1" x2="1419" y2="158.1" stroke="#131722" stroke-width="1.1" stroke-dasharray="6 5"/>
<line x1="1014.2" y1="347.5" x2="1419" y2="347.5" stroke="#131722" stroke-width="1.3" stroke-dasharray="5.5 5.53"/>
<g stroke="#131722" stroke-width="1.2" fill="none"><line x1="1281.5" y1="322" x2="1281.5" y2="430"/><line x1="1277.3" y1="322" x2="1285.3" y2="322"/><polyline points="1276,425.8 1281.5,430.4 1287,425.8"/></g>
</g>
<polyline clip-path="url(#rsic)" points="4.5,646.64 14.5,638.29 23.5,643.26 32.5,647.04 42.5,641.27 51.5,630.73 60.5,632.12 70.5,619.79 79.5,606.86 88.5,606.26 98.5,615.81 107.5,618.2 116.5,622.97 126.5,620.19 135.5,616.8 145.5,620.38 154.5,619.39 163.5,618.2 173.5,633.71 182.5,652.02 191.5,650.23 201.5,657.98 210.5,655.99 219.5,654.2 229.5,656.19 238.5,642.07 247.5,646.64 257.5,632.12 266.5,637.89 275.5,634.91 285.5,632.92 294.5,628.34 304.5,617.8 313.5,621.18 322.5,627.94 332.5,621.18 341.5,626.75 350.5,624.16 360.5,627.35 369.5,614.22 378.5,623.77 388.5,621.58 397.5,620.98 406.5,617.2 416.5,610.84 425.5,607.85 435.5,618.79 444.5,629.73 453.5,628.14 463.5,635.5 472.5,625.95 481.5,629.73 491.5,627.15 500.5,626.15 509.5,629.73 519.5,633.91 528.5,634.31 537.5,626.75 547.5,639.08 556.5,633.32 565.5,623.17 575.5,616.21 584.5,626.75 594.5,618.79 603.5,613.82 612.5,606.46 622.5,610.24 631.5,623.57 640.5,613.42 650.5,608.45 659.5,605.86 668.5,594.92 678.5,601.49 687.5,597.9 696.5,614.81 706.5,610.24 715.5,624.16 724.5,640.28 734.5,636.7 743.5,645.85 753.5,649.63 762.5,643.06 771.5,637.29 781.5,640.88 790.5,643.86 799.5,640.68 809.5,639.68 818.5,636.3 827.5,638.09 837.5,648.44 846.5,641.47 855.5,638.29 865.5,633.51 874.5,637.1 884.5,633.51 893.5,647.84 902.5,644.06 912.5,660.57 921.5,655 930.5,653.01 940.5,657.98 949.5,655.99 958.5,662.56 968.5,660.57 977.5,675.69 986.5,665.74 996.5,671.11 1005.5,673.1 1014.5,676.09 1024.5,665.54 1033.5,665.15 1043.5,657.39 1052.5,660.57 1061.5,664.95 1071.5,667.53 1080.5,664.15 1089.5,655.99 1099.5,658.18 1108.5,655.99 1117.5,649.03 1127.5,654.01 1136.5,655.99 1145.5,654.8 1155.5,659.97 1164.5,660.57 1173.5,656.59 1183.5,660.17 1192.5,663.75 1202.5,662.56 1211.5,658.78 1220.5,657.98 1230.5,659.18 1239.5,661.17 1248.5,661.56 1258.5,665.74 1267.5,667.93 1276.5,665.74 1286.5,677.48" fill="none" stroke="#9c27b0" stroke-width="1.15" stroke-linejoin="round"/>
<text x="6.6" y="16.4" font-size="12.3" fill="#131722" textLength="88.3" lengthAdjust="spacingAndGlyphs" font-weight="bold" >CryptoFXStreet</text>
<text x="98.3" y="16.4" font-size="12.3" fill="#131722" textLength="330.3" lengthAdjust="spacingAndGlyphs" >published on TradingView.com, June 21, 2021 19:26:33 -04</text>
<text x="6.6" y="34" font-size="12.3" fill="#131722" textLength="123.9" lengthAdjust="spacingAndGlyphs" font-weight="bold" >BINANCE:VETUSD, 1D</text>
<text x="137.1" y="34" font-size="12.3" fill="#131722" textLength="66.6" lengthAdjust="spacingAndGlyphs" >0.07597466</text>
<polygon points="207.2,25.2 216.8,25.2 212,34" fill="#ef5350"/>
<text x="221" y="34" font-size="12.3" fill="#131722" textLength="72.9" lengthAdjust="spacingAndGlyphs" >−0.02261600</text>
<text x="299.2" y="34" font-size="12.3" fill="#131722" textLength="54.9" lengthAdjust="spacingAndGlyphs" >(−22.94%)</text>
<text x="359.4" y="34" font-size="12.3" fill="#131722" textLength="12" lengthAdjust="spacingAndGlyphs" font-weight="bold" >O:</text>
<text x="373.2" y="34" font-size="12.3" fill="#ef5350" textLength="66.3" lengthAdjust="spacingAndGlyphs" >0.09859345</text>
<text x="445" y="34" font-size="12.3" fill="#131722" textLength="11.1" lengthAdjust="spacingAndGlyphs" font-weight="bold" >H:</text>
<text x="458.1" y="34" font-size="12.3" fill="#ef5350" textLength="66.3" lengthAdjust="spacingAndGlyphs" >0.09938253</text>
<text x="530" y="34" font-size="12.3" fill="#131722" textLength="8.3" lengthAdjust="spacingAndGlyphs" font-weight="bold" >L:</text>
<text x="540.3" y="34" font-size="12.3" fill="#ef5350" textLength="66" lengthAdjust="spacingAndGlyphs" >0.07282116</text>
<text x="611.4" y="34" font-size="12.3" fill="#131722" textLength="10" lengthAdjust="spacingAndGlyphs" font-weight="bold" >C:</text>
<text x="623.4" y="34" font-size="12.3" fill="#ef5350" textLength="66.1" lengthAdjust="spacingAndGlyphs" >0.07597466</text>
<text x="15.4" y="65" font-size="12.3" fill="#131722" textLength="359.4" lengthAdjust="spacingAndGlyphs" font-weight="bold" >VeChain / US Dollar (calculated by TradingView), 1D, BINANCE</text>
<text x="15.4" y="82.2" font-size="12.3" fill="#131722" textLength="100.5" lengthAdjust="spacingAndGlyphs" >MA (200, close, 0)</text>
<text x="15.4" y="99.5" font-size="12.3" fill="#131722" textLength="93.4" lengthAdjust="spacingAndGlyphs" >MA (50, close, 0)</text>
<text x="15.4" y="504" font-size="12.3" fill="#131722" textLength="17" lengthAdjust="spacingAndGlyphs" >Vol</text>
<text x="15.4" y="521.2" font-size="12.3" fill="#131722" textLength="133" lengthAdjust="spacingAndGlyphs" >MA (50, Vol: Volume, 0)</text>
<text x="15.4" y="604.7" font-size="12.3" fill="#131722" textLength="77.5" lengthAdjust="spacingAndGlyphs" >RSI (14, close)</text>
<g fill="#e0e2e7" shape-rendering="crispEdges">
<rect x="1420" y="63" width="4" height="1"/>
<rect x="1420" y="121" width="4" height="1"/>
<rect x="1420" y="167" width="4" height="1"/>
<rect x="1420" y="206" width="4" height="1"/>
<rect x="1420" y="244" width="4" height="1"/>
<rect x="1420" y="275" width="4" height="1"/>
<rect x="1420" y="312" width="4" height="1"/>
<rect x="1420" y="347" width="4" height="1"/>
<rect x="1420" y="391" width="4" height="1"/>
<rect x="1420" y="429" width="4" height="1"/>
<rect x="1420" y="461" width="4" height="1"/>
<rect x="1420" y="513" width="4" height="1"/>
<rect x="1420" y="549" width="4" height="1"/>
<rect x="1420" y="605" width="4" height="1"/>
<rect x="1420" y="635" width="4" height="1"/>
<rect x="1420" y="665" width="4" height="1"/>
</g>
<text x="1428.9" y="67.9" font-size="11.6" fill="#131722" textLength="61.2" lengthAdjust="spacingAndGlyphs" >0.35000000</text>
<text x="1428.9" y="125.2" font-size="11.6" fill="#131722" textLength="61.2" lengthAdjust="spacingAndGlyphs" >0.25000000</text>
<text x="1428.9" y="171.2" font-size="11.6" fill="#131722" textLength="61.2" lengthAdjust="spacingAndGlyphs" >0.19000000</text>
<text x="1428.9" y="210.5" font-size="11.6" fill="#131722" textLength="61.2" lengthAdjust="spacingAndGlyphs" >0.15000000</text>
<text x="1428.9" y="248.8" font-size="11.6" fill="#131722" textLength="61.2" lengthAdjust="spacingAndGlyphs" >0.12000000</text>
<text x="1428.9" y="279.8" font-size="11.6" fill="#131722" textLength="61.2" lengthAdjust="spacingAndGlyphs" >0.10000000</text>
<text x="1428.9" y="316.9" font-size="11.6" fill="#131722" textLength="61.2" lengthAdjust="spacingAndGlyphs" >0.08000000</text>
<text x="1428.9" y="351.8" font-size="11.6" fill="#131722" textLength="61.2" lengthAdjust="spacingAndGlyphs" >0.06500000</text>
<text x="1428.9" y="395.4" font-size="11.6" fill="#131722" textLength="61.2" lengthAdjust="spacingAndGlyphs" >0.05000000</text>
<text x="1428.9" y="433.4" font-size="11.6" fill="#131722" textLength="61.2" lengthAdjust="spacingAndGlyphs" >0.04000000</text>
<text x="1428.9" y="465.7" font-size="11.6" fill="#131722" textLength="61.2" lengthAdjust="spacingAndGlyphs" >0.03300000</text>
<text x="1428.9" y="518" font-size="11.6" fill="#131722" textLength="27.5" lengthAdjust="spacingAndGlyphs" >800M</text>
<text x="1428.9" y="553.8" font-size="11.6" fill="#131722" textLength="27.5" lengthAdjust="spacingAndGlyphs" >400M</text>
<text x="1428.9" y="609.6" font-size="11.6" fill="#131722" textLength="29" lengthAdjust="spacingAndGlyphs" >80.00</text>
<text x="1428.9" y="639.8" font-size="11.6" fill="#131722" textLength="29" lengthAdjust="spacingAndGlyphs" >60.00</text>
<text x="1428.9" y="669.7" font-size="11.6" fill="#131722" textLength="29" lengthAdjust="spacingAndGlyphs" >40.00</text>
<rect x="1444.8" y="55" width="3" height="13" fill="#fff"/>
<rect x="1446.5" y="50.5" width="27.5" height="18.5" rx="3.5" fill="#fff" stroke="#d1d4dc" stroke-width="1"/>
<text x="1450.5" y="63.8" font-size="11.6" fill="#131722" textLength="19.8" lengthAdjust="spacingAndGlyphs" >USD</text>
<path d="M1419,288 h76 a2,2 0 0 1 2,2 v13 a2,2 0 0 1 -2,2 h-76 z" fill="#673ab7"/>
<rect x="1419" y="296" width="4" height="1" fill="#d1c4e9" shape-rendering="crispEdges"/>
<text x="1428.9" y="301" font-size="11.6" fill="#fff" textLength="61.2" lengthAdjust="spacingAndGlyphs" font-weight="bold" >0.08840716</text>
<text x="1304.6" y="166.6" font-size="11.6" fill="#9598a1" textLength="105.3" lengthAdjust="spacingAndGlyphs" >78.60%(0.18818301)</text>
<text x="1304.6" y="219.2" font-size="11.6" fill="#9598a1" textLength="105.5" lengthAdjust="spacingAndGlyphs" >61.80%(0.13686224)</text>
<text x="1304.6" y="427.2" font-size="11.6" fill="#131722" textLength="105.2" lengthAdjust="spacingAndGlyphs" >78.60%(0.03977390)</text>
<text x="1193.4" y="457.2" font-size="11.6" fill="#131722" textLength="175.4" lengthAdjust="spacingAndGlyphs" >−0.03587722 (−47.49%) −3587722</text>
<g fill="#e0e2e7" shape-rendering="crispEdges">
<rect x="107" y="691" width="1" height="4"/>
<rect x="238" y="691" width="1" height="4"/>
<rect x="369" y="691" width="1" height="4"/>
<rect x="528" y="691" width="1" height="4"/>
<rect x="631" y="691" width="1" height="4"/>
<rect x="715" y="691" width="1" height="4"/>
<rect x="809" y="691" width="1" height="4"/>
<rect x="893" y="691" width="1" height="4"/>
<rect x="977" y="691" width="1" height="4"/>
<rect x="1099" y="691" width="1" height="4"/>
<rect x="1220" y="691" width="1" height="4"/>
<rect x="1379" y="691" width="1" height="4"/>
</g>
<text x="107.4" y="707.9" font-size="12.0" fill="#131722" text-anchor="middle" >15</text>
<text x="228.35" y="707.9" font-size="12.0" fill="#131722" textLength="20.1" lengthAdjust="spacingAndGlyphs" stroke="#131722" stroke-width="0.35">Mar</text>
<text x="369.5" y="707.9" font-size="12.0" fill="#131722" text-anchor="middle" >15</text>
<text x="518.95" y="707.9" font-size="12.0" fill="#131722" textLength="19.3" lengthAdjust="spacingAndGlyphs" stroke="#131722" stroke-width="0.35">Apr</text>
<text x="631.5" y="707.9" font-size="12.0" fill="#131722" text-anchor="middle" >12</text>
<text x="715.6" y="707.9" font-size="12.0" fill="#131722" text-anchor="middle" >21</text>
<text x="798.8" y="707.9" font-size="12.0" fill="#131722" textLength="21" lengthAdjust="spacingAndGlyphs" stroke="#131722" stroke-width="0.35">May</text>
<text x="893.4" y="707.9" font-size="12.0" fill="#131722" text-anchor="middle" >10</text>
<text x="977.5" y="707.9" font-size="12.0" fill="#131722" text-anchor="middle" >19</text>
<text x="1089.45" y="707.9" font-size="12.0" fill="#131722" textLength="19.9" lengthAdjust="spacingAndGlyphs" stroke="#131722" stroke-width="0.35">Jun</text>
<text x="1220.5" y="707.9" font-size="12.0" fill="#131722" text-anchor="middle" >14</text>
<text x="1370.85" y="707.9" font-size="12.0" fill="#131722" textLength="16.9" lengthAdjust="spacingAndGlyphs" stroke="#131722" stroke-width="0.35">Jul</text>
<g transform="translate(5.8,728.6)"><g fill="#3b6cf6"><circle cx="4.5" cy="10.8" r="4.45"/><circle cx="11.2" cy="6.1" r="5.9"/><circle cx="20.4" cy="9.7" r="5.55"/><rect x="4.5" y="9" width="16" height="6.25"/></g><polyline points="0.6,12.6 10.1,6.0 16.2,11.9 23.2,4.7" fill="none" stroke="#fff" stroke-width="1.15"/><circle cx="10.1" cy="6.0" r="1.55" fill="#fff"/><circle cx="16.2" cy="11.9" r="1.55" fill="#fff"/></g>
<text x="34" y="741.2" font-size="12.8" fill="#131722" textLength="71" lengthAdjust="spacingAndGlyphs" >TradingView</text>
<rect x="6.5" y="43.5" width="1495" height="675" fill="none" stroke="#000" stroke-width="1.15"/>
</svg></body></html>
